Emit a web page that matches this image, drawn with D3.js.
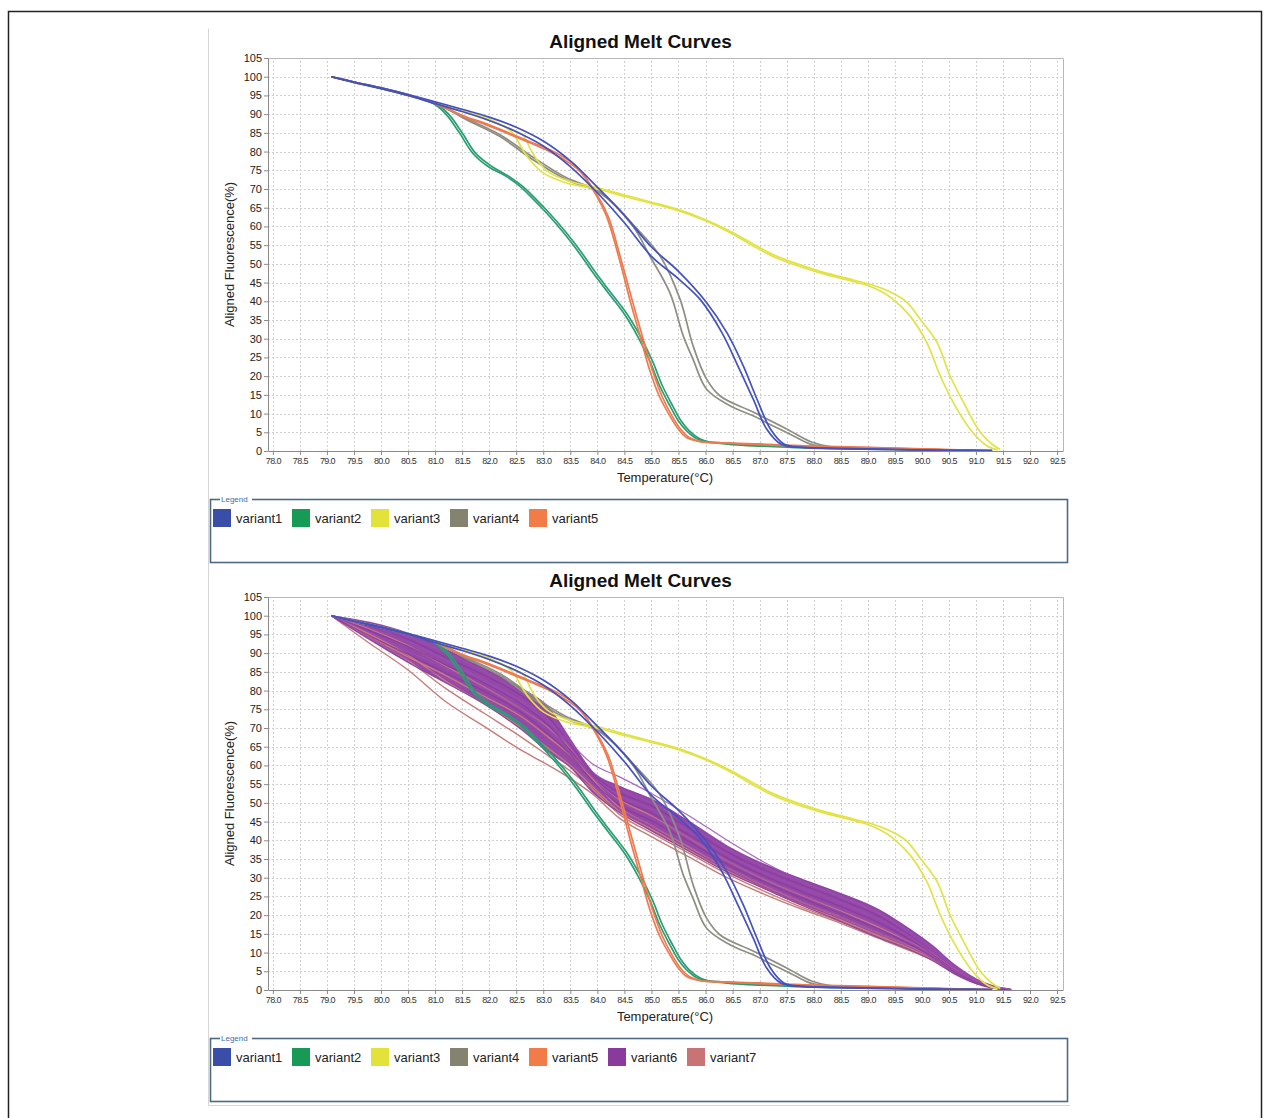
<!DOCTYPE html>
<html><head><meta charset="utf-8">
<script src="https://cdn.jsdelivr.net/npm/d3@7"></script>
<style>body{margin:0;background:#fff}svg{display:block}</style>
</head><body>
<svg id="c" width="1270" height="1118"></svg>
<script>
// ---------- tick labels / categories ----------
const xTickValues=[78.0,78.5,79.0,79.5,80.0,80.5,81.0,81.5,82.0,82.5,83.0,83.5,84.0,84.5,85.0,85.5,86.0,86.5,87.0,87.5,88.0,88.5,89.0,89.5,90.0,90.5,91.0,91.5,92.0,92.5];
const yTickValues=[0,5,10,15,20,25,30,35,40,45,50,55,60,65,70,75,80,85,90,95,100,105];
const variantNames=['variant1','variant2','variant3','variant4','variant5','variant6','variant7'];
const swatchColors=['#3a4ea8','#169a56','#e2e23a','#838370','#f27c48','#8a3a9c','#c87474'];
const lineColors=['#4351c2','#2a9e72','#e2e245','#8e8e84','#ee7a50','#8b3a9f','#c97b7b'];

// ---------- series: [temperature, aligned fluorescence] ----------
const v1a=[[79.08,100],[79.5,98.6],[80.0,97.0],[80.5,95.2],[81.0,93.3],[81.5,91.3],[82.0,89.2],[82.5,86.5],[83.0,82.8],[83.5,77.5],[84.0,70.5],[84.5,63.0],[85.0,54.5],[85.5,48.0],[86.0,40.0],[86.4,31.5],[86.7,22.7],[86.95,13.9],[87.2,5.9],[87.45,1.9],[87.8,1.0],[88.5,0.7],[89.5,0.4],[90.5,0.2],[91.3,0.1]];
const v1b=[[79.08,100],[79.5,98.5],[80.0,96.8],[80.5,95.0],[81.0,92.8],[81.5,90.7],[82.0,88.3],[82.5,85.3],[83.0,81.5],[83.5,76.0],[84.0,69.0],[84.5,61.0],[85.0,52.0],[85.5,46.0],[85.9,40.5],[86.3,31.7],[86.6,22.7],[86.88,13.9],[87.13,5.9],[87.4,1.8],[87.8,0.9],[88.5,0.6],[89.5,0.4],[90.5,0.2],[91.3,0.1]];
const v2a=[[79.08,100],[79.5,98.6],[80.0,97.0],[80.5,95.1],[80.96,92.9],[81.2,90.0],[81.45,85.0],[81.7,79.5],[82.0,75.8],[82.3,73.5],[82.57,70.7],[82.8,67.5],[83.06,63.6],[83.35,58.8],[83.62,53.8],[83.92,47.6],[84.2,42.3],[84.48,37.0],[84.75,30.5],[84.97,24.0],[85.15,17.5],[85.34,12.1],[85.5,8.0],[85.65,5.4],[85.85,3.2],[86.02,2.5],[86.5,2.0],[87.0,1.6],[87.5,1.2],[88.0,0.9],[89.0,0.6],[90.0,0.4],[91.0,0.2]];
const v2b=[[79.08,100],[79.5,98.5],[80.0,96.9],[80.5,95.0],[81.0,92.9],[81.25,90.0],[81.5,85.0],[81.75,79.5],[82.05,76.0],[82.35,73.5],[82.62,70.7],[82.85,67.5],[83.11,63.6],[83.4,58.8],[83.67,53.8],[83.97,47.6],[84.25,42.3],[84.53,37.0],[84.8,30.5],[85.02,24.0],[85.2,17.5],[85.39,12.1],[85.55,8.0],[85.7,5.4],[85.9,3.2],[86.07,2.4],[86.5,1.7],[87.0,1.3],[87.5,1.0],[88.0,0.8],[89.0,0.5],[90.0,0.3],[91.0,0.1]];
const v3a=[[79.08,100],[79.5,98.6],[80.0,97.0],[80.5,95.2],[81.0,93.2],[81.5,91.0],[82.0,88.7],[82.3,86.5],[82.44,84.9],[82.6,81.0],[82.75,77.8],[83.0,74.3],[83.43,71.6],[84.05,69.8],[84.5,68.0],[84.97,66.3],[85.5,64.2],[86.0,61.5],[86.5,58.0],[86.88,54.8],[87.2,52.3],[87.5,50.5],[88.12,47.6],[88.73,45.3],[89.0,44.2],[89.25,42.6],[89.47,40.5],[89.78,36.1],[90.09,29.0],[90.34,20.1],[90.58,13.0],[90.89,5.9],[91.2,1.4],[91.4,0.3]];
const v3b=[[79.08,100],[79.5,98.5],[80.0,96.9],[80.5,95.1],[81.0,93.1],[81.5,90.8],[82.0,88.4],[82.4,86.0],[82.62,84.5],[82.75,81.0],[82.88,77.8],[83.1,74.5],[83.5,72.0],[84.05,70.2],[84.5,68.4],[84.97,66.6],[85.5,64.5],[86.0,61.8],[86.5,58.4],[86.88,55.3],[87.2,52.8],[87.5,51.0],[88.12,48.0],[88.73,45.7],[89.1,44.3],[89.4,42.6],[89.72,39.8],[89.97,35.2],[90.28,29.0],[90.52,20.1],[90.77,13.0],[91.08,5.0],[91.3,1.8],[91.45,0.4]];
const v4a=[[79.08,100],[79.5,98.6],[80.0,97.0],[80.5,95.2],[81.0,93.0],[81.58,88.5],[82.2,84.0],[82.81,77.8],[83.43,72.5],[84.05,68.9],[84.66,60.0],[84.97,52.1],[85.34,42.3],[85.59,30.7],[85.77,24.5],[86.02,16.5],[86.45,12.1],[86.88,9.4],[87.25,6.7],[87.62,4.1],[87.93,1.9],[88.3,1.0],[89.0,0.6],[90.0,0.4],[91.0,0.2]];
const v4b=[[79.08,100],[79.5,98.5],[80.0,96.9],[80.5,95.1],[81.0,92.9],[81.58,88.8],[82.2,84.5],[82.81,78.5],[83.43,73.0],[84.05,69.2],[84.66,60.5],[85.16,52.1],[85.53,40.5],[85.77,28.1],[86.02,19.2],[86.27,14.7],[86.88,10.4],[87.5,5.9],[87.96,2.4],[88.3,1.2],[89.0,0.7],[90.0,0.4],[91.0,0.2]];
const v5a=[[79.08,100],[79.5,98.6],[80.0,97.0],[80.5,95.1],[81.0,92.9],[81.58,89.2],[81.9,87.7],[82.38,84.9],[82.81,82.3],[83.12,80.5],[83.62,76.0],[83.92,69.8],[84.17,62.7],[84.42,50.5],[84.6,40.5],[84.79,30.7],[84.97,21.5],[85.15,14.5],[85.34,9.4],[85.5,5.8],[85.65,3.6],[85.9,2.5],[86.5,2.1],[87.0,1.9],[87.5,1.6],[88.0,1.3],[89.0,1.0],[90.0,0.6],[90.5,0.4],[91.3,0.1]];
const v5b=[[79.08,100],[79.5,98.5],[80.0,96.9],[80.5,95.0],[81.0,92.8],[81.58,89.0],[81.9,87.4],[82.38,84.6],[82.81,82.0],[83.12,80.0],[83.62,75.5],[83.95,69.5],[84.2,62.7],[84.45,50.5],[84.64,40.5],[84.83,30.7],[85.02,21.5],[85.2,14.5],[85.38,9.4],[85.54,5.8],[85.7,3.6],[85.95,2.4],[86.5,2.0],[87.0,1.7],[87.5,1.4],[88.0,1.2],[89.0,0.9],[90.0,0.5],[90.5,0.3],[91.3,0.1]];

// variant6 / variant7 share one temperature grid
const bandT=[79.08,79.8,80.5,81.2,81.9,82.6,83.1,83.5,83.9,84.4,85.0,85.7,86.4,87.1,87.8,88.5,89.2,89.8,90.2,90.6,91.0,91.3,91.65];
const p1=[100,98.2,95.3,91.0,86.0,80.5,75.5,67.0,58.5,54.5,51.0,45.0,38.5,33.5,29.5,25.8,21.5,16.0,11.8,6.8,3.0,1.2,0.2];
const p2=[100,97.7,94.4,90.1,85.1,79.3,74.2,66.3,58.2,53.6,50.1,44.1,37.7,32.8,28.8,25.0,20.7,15.3,11.2,6.4,2.8,1.0,0.1];
const p3=[100,97.1,93.7,88.9,84.1,78.6,72.8,65.6,58.0,52.8,49.2,43.2,36.9,32.0,28.0,24.1,19.8,14.6,10.6,6.0,2.6,0.9,0.1];
const p4=[100,96.7,92.5,88.2,82.9,77.2,72.1,64.8,57.6,52.0,48.3,42.3,36.1,31.2,27.1,23.2,18.9,13.9,10.0,5.6,2.4,0.8,0];
const p5=[100,95.9,91.8,86.8,82.1,76.4,70.6,64.1,57.3,51.2,47.3,41.4,35.3,30.4,26.2,22.3,18.0,13.3,9.5,5.3,2.2,0.7,0];
const p6=[100,95.4,90.4,86.1,80.8,75.0,69.7,63.5,57.0,50.4,46.3,40.5,34.5,29.6,25.3,21.4,17.2,12.7,9.1,5.0,2.1,0.7,0];
const p7=[100,94.5,89.7,84.7,79.9,74.1,68.2,62.9,56.0,49.5,45.2,39.6,33.6,28.8,24.4,20.4,16.3,12.0,8.7,4.8,2.0,0.6,0];
const p8=[100,94.0,88.3,83.2,78.1,71.0,65.5,61.0,55.0,48.5,44.0,38.4,32.6,27.9,23.5,19.4,15.2,11.4,8.3,4.5,1.8,0.6,0];
const p9=[100,93.5,87.5,82.0,76.5,69.5,63.5,59.5,53.0,47.5,42.5,37.0,31.5,27.0,22.5,18.3,14.0,10.6,7.8,4.3,1.7,0.5,0];
const p10=[100,97.4,93.2,88.0,82.5,76.8,71.5,66.0,60.5,57.0,52.5,46.5,40.0,34.0,29.0,24.8,20.4,14.8,10.7,6.1,2.7,1.1,0.2];
const r1=[100,92.5,85.5,77.0,70.5,64.0,60.0,56.5,52.5,46.0,41.0,35.5,30.0,25.5,21.5,17.8,13.8,10.4,8.0,5.3,2.7,1.0,0];
const r2=[100,94.0,88.0,80.5,74.0,67.5,62.5,58.5,53.8,47.0,42.0,36.5,31.0,26.3,22.0,18.2,14.2,10.7,8.1,5.0,2.3,0.8,0];
const r3=[100,95.0,89.5,82.5,76.5,70.0,64.5,60.0,54.5,47.8,43.0,37.3,31.8,27.0,22.6,18.7,14.5,11.0,8.3,5.2,2.4,0.9,0];
const r4=[100,96.5,92.0,86.5,81.0,75.0,70.0,64.5,57.0,51.0,46.5,40.5,34.5,29.5,25.2,21.2,16.8,12.7,9.6,5.8,2.6,1.0,0];
const r5=[100,94.5,89.0,84.0,78.5,73.0,67.5,62.8,56.5,48.8,44.0,38.2,32.6,27.8,23.4,19.4,15.2,11.5,8.6,5.4,2.5,0.8,0];

const purpleCurves=[p1,p2,p3,p4,p5,p6,p7,p8,p9,p10];
const rosyCurves=[r1,r2,r3,r4,r5];
const pairs=arr=>bandT.map((t,i)=>[t,arr[i]]);

const baseSeries=[
  {v:3,d:v4a},{v:3,d:v4b},{v:2,d:v3a},{v:2,d:v3b},{v:1,d:v2a},{v:1,d:v2b},
  {v:4,d:v5a},{v:4,d:v5b},{v:0,d:v1a},{v:0,d:v1b}
];

// ---------- drawing ----------
const svg=d3.select('#c');
const FONT='"Liberation Sans", Arial, sans-serif';

svg.append('rect').attr('x',8.5).attr('y',11.5).attr('width',1253).attr('height',1130)
  .attr('fill','none').attr('stroke','#222').attr('stroke-width',1.5);
svg.append('path').attr('d','M208.5,29V1105.5H1070').attr('fill','none').attr('stroke','#d6d6d6');

function drawChart(top, withBand, nLegend){
  const x=d3.scaleLinear().domain([77.91,92.61]).range([268,1063]);
  const y=d3.scaleLinear().domain([0,105]).range([top+393,top]);
  const g=svg.append('g');

  g.append('text').attr('x',640.5).attr('y',top-10).attr('text-anchor','middle')
    .attr('font-family',FONT).attr('font-weight','bold').attr('font-size',19).attr('fill','#111')
    .text('Aligned Melt Curves');

  // grid
  g.append('g').selectAll('line').data(xTickValues).join('line')
    .attr('x1',d=>Math.round(x(d))+0.5).attr('x2',d=>Math.round(x(d))+0.5)
    .attr('y1',y(0)).attr('y2',y(105))
    .attr('stroke','#cfcfcf').attr('stroke-dasharray','2,2').attr('stroke-width',1);
  g.append('g').selectAll('line').data(yTickValues.filter(d=>d>0&&d<105)).join('line')
    .attr('y1',d=>Math.round(y(d))+0.5).attr('y2',d=>Math.round(y(d))+0.5)
    .attr('x1',x.range()[0]).attr('x2',x.range()[1])
    .attr('stroke','#cfcfcf').attr('stroke-dasharray','2,2').attr('stroke-width',1);
  g.append('path').attr('d',`M${x.range()[0]},${y(105)+0.5}H${x.range()[1]+0.5}V${y(0)}`)
    .attr('fill','none').attr('stroke','#b8b8b8');

  const line=d3.line().x(d=>x(d[0])).y(d=>y(d[1])).curve(d3.curveCatmullRom.alpha(0.5));
  const bandLine=d3.line().x(d=>x(d[0])).y(d=>y(d[1])).curve(d3.curveMonotoneX);

  if(withBand){
    const area=d3.area().x((d,i)=>x(bandT[i])).y0((d,i)=>y(p9[i])).y1((d,i)=>y(p1[i])).curve(d3.curveMonotoneX);
    g.append('path').datum(bandT).attr('d',area).attr('fill',lineColors[5]).attr('opacity',0.92);
    g.append('g').selectAll('path').data(rosyCurves).join('path')
      .attr('d',d=>bandLine(pairs(d))).attr('fill','none').attr('stroke',lineColors[6]).attr('stroke-width',1.4);
    g.append('g').selectAll('path').data(purpleCurves).join('path')
      .attr('d',d=>bandLine(pairs(d))).attr('fill','none')
      .attr('stroke',(d,i)=>i%2?'#9a4fb0':'#8a3a9e').attr('stroke-width',1.2).attr('opacity',0.85);
  }

  g.append('g').selectAll('path').data(baseSeries).join('path')
    .attr('d',d=>line(d.d)).attr('fill','none')
    .attr('stroke',d=>lineColors[d.v]).attr('stroke-width',1.7);

  // axes
  const ax=g.append('g').attr('transform',`translate(0,${y(0)})`)
    .call(d3.axisBottom(x).tickValues(xTickValues).tickFormat(d3.format('.1f')).tickSize(4).tickSizeOuter(0).tickPadding(3));
  ax.selectAll('text').attr('font-family',FONT).attr('font-size',9).attr('letter-spacing','-0.6').attr('fill','#333');
  const ay=g.append('g').attr('transform',`translate(${x.range()[0]},0)`)
    .call(d3.axisLeft(y).tickValues(yTickValues).tickSize(4).tickSizeOuter(0).tickPadding(2));
  ay.selectAll('text').attr('font-family',FONT).attr('font-size',11).attr('fill','#222');
  [ax,ay].forEach(a=>{a.select('.domain').attr('stroke','#8a8a8a');a.selectAll('.tick line').attr('stroke','#8a8a8a');});

  g.append('text').attr('x',665).attr('y',y(0)+31).attr('text-anchor','middle')
    .attr('font-family',FONT).attr('font-size',13).attr('fill','#222').text('Temperature(°C)');
  g.append('text').attr('transform',`translate(234,${(y(0)+y(105))/2}) rotate(-90)`).attr('text-anchor','middle')
    .attr('font-family',FONT).attr('font-size',13).attr('fill','#222').text('Aligned Fluorescence(%)');

  // legend
  const ly=y(0)+48;
  g.append('rect').attr('x',210.5).attr('y',ly+0.5).attr('width',857).attr('height',63)
    .attr('fill','none').attr('stroke','#4d6884').attr('stroke-width',1.6);
  g.append('rect').attr('x',220).attr('y',ly-4).attr('width',32).attr('height',8).attr('fill','#fff');
  g.append('text').attr('x',221).attr('y',ly+3).attr('font-family',FONT).attr('font-size',8)
    .attr('fill','#3b6db0').text('Legend');
  const items=g.append('g').selectAll('g').data(variantNames.slice(0,nLegend)).join('g')
    .attr('transform',(d,i)=>`translate(${213+i*79},${ly+10})`);
  items.append('rect').attr('width',18).attr('height',18).attr('fill',(d,i)=>swatchColors[i]);
  items.append('text').attr('x',23).attr('y',14).attr('font-family',FONT).attr('font-size',13)
    .attr('fill','#222').text(d=>d);
}

drawChart(58,false,5);
drawChart(597,true,7);
</script>
</body></html>
